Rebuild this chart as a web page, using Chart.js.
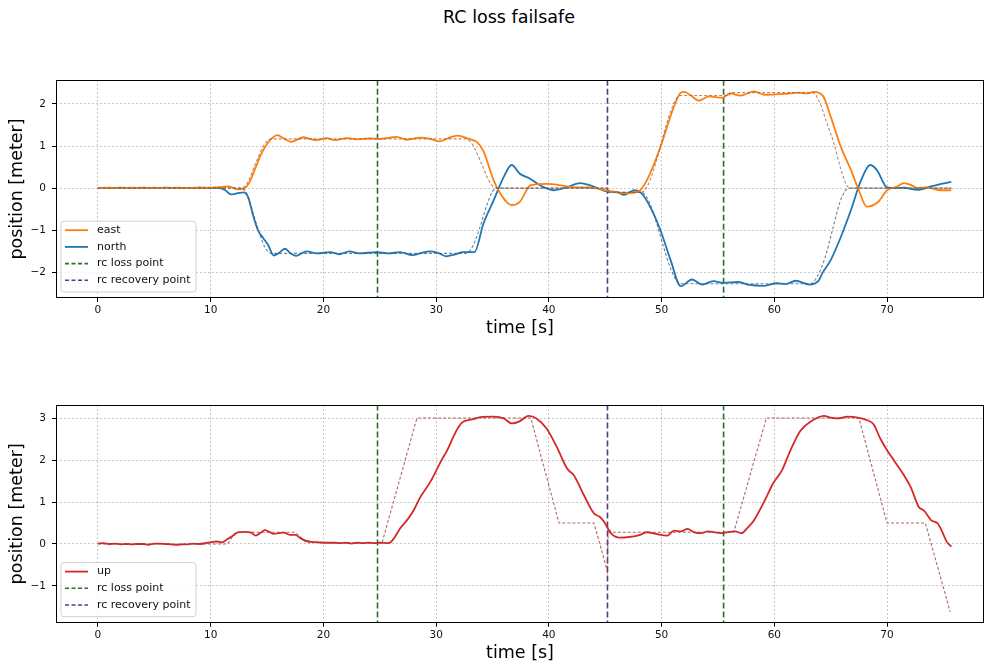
<!DOCTYPE html>
<html><head><meta charset="utf-8">
<script src="https://cdn.jsdelivr.net/npm/chart.js@4.4.1/dist/chart.umd.min.js"></script>
<style>
html,body{margin:0;padding:0;background:#fff;}
body{width:985px;height:669px;position:relative;overflow:hidden;font-family:"DejaVu Sans",sans-serif;}
#title{position:absolute;left:509px;top:6px;transform:translateX(-50%);font-size:17.5px;line-height:22px;color:#000;white-space:nowrap;}
#c1{position:absolute;left:0;top:0;}
#c2{position:absolute;left:0;top:340px;}
</style></head><body>
<div id="title">RC loss failsafe</div>
<canvas id="c1" width="985" height="340"></canvas>
<canvas id="c2" width="985" height="329"></canvas>
<script>
// ---------- data ----------
const xTicks = [0,10,20,30,40,50,60,70];
const yTicksTop = [-2,-1,0,1,2];
const yTicksBottom = [-1,0,1,2,3];
const lossTimes = [24.8, 55.5];
const recoveryTimes = [45.2];

const tEast = [0,1,2,3,4,5,6,7,8,9,10,11,11.6,12.4,13,13.4,14,14.5,15,15.5,15.9,16.5,17.1,17.6,18.2,18.8,19.4,20.3,21.0,22.1,23.0,24.0,25.0,26.5,27.4,28.6,29.5,30.3,31.0,31.9,32.9,33.6,34.2,35.1,35.7,36.7,37.4,38.4,39.9,41.2,42.4,43.5,45.2,46.7,48.0,48.7,49.9,51.1,51.7,52.0,52.6,53.3,54.2,55.4,56.1,57.0,58.2,59.1,60.9,62.1,62.9,63.5,64.3,65.0,65.9,66.8,67.5,68.2,69.2,70.0,70.9,71.5,72.1,72.7,73.5,74.8,75.7];
const east = [0,0.01,0,0.01,0,0.01,0,0.01,0,0.01,0.01,0.03,0.04,-0.03,0,0.12,0.5,0.82,1.05,1.2,1.26,1.18,1.10,1.14,1.21,1.17,1.14,1.19,1.14,1.19,1.16,1.18,1.17,1.22,1.15,1.2,1.17,1.11,1.18,1.25,1.17,1.10,0.88,0.19,-0.13,-0.40,-0.33,0.07,0.10,0.06,0.02,0.02,-0.06,-0.12,-0.07,0.19,0.98,1.94,2.27,2.29,2.2,2.08,2.18,2.15,2.25,2.2,2.3,2.22,2.24,2.27,2.25,2.29,2.2,1.70,0.98,0.43,-0.05,-0.44,-0.33,-0.05,0.04,0.12,0.08,0.0,0.02,-0.05,-0.05];

const tNorth = [0,1,2,3,4,5,6,7,8,9,10,10.8,11.3,11.8,12.4,12.9,13.3,13.8,14.2,14.7,15.1,15.6,16.0,16.6,17.1,17.6,18.5,19.4,20.6,21.4,22.3,23.2,24.7,25.8,26.8,27.9,29.4,30.1,30.9,31.6,32.4,33.4,34.2,35.1,36.0,36.7,37.4,38.3,39.2,40.4,41.6,42.8,43.6,44.5,45.2,46.0,46.7,47.6,48.2,49.0,49.9,50.8,51.7,52.7,53.6,54.6,55.5,56.8,57.8,59.0,60.2,61.0,61.9,63.1,63.9,64.3,65.0,65.9,66.8,67.7,68.5,69.1,70.0,70.8,71.5,72.7,73.9,74.8,75.7];
const north = [0,0,0.01,0,0.01,0,0.01,0,0,0.01,0,0,-0.05,-0.15,-0.12,-0.1,-0.2,-0.68,-1.0,-1.2,-1.35,-1.6,-1.55,-1.44,-1.55,-1.61,-1.5,-1.55,-1.52,-1.57,-1.5,-1.55,-1.52,-1.55,-1.52,-1.59,-1.5,-1.53,-1.62,-1.58,-1.52,-1.52,-0.84,-0.29,0.27,0.55,0.35,0.23,0.07,-0.05,0.02,0.12,0.07,-0.02,-0.08,-0.09,-0.16,-0.05,-0.12,-0.45,-1.0,-1.71,-2.33,-2.17,-2.29,-2.21,-2.25,-2.23,-2.3,-2.32,-2.26,-2.28,-2.2,-2.29,-2.21,-2.0,-1.71,-1.16,-0.52,0.19,0.55,0.43,0.02,0.0,0.01,-0.04,0.04,0.1,0.15];

const tEastSp = [0,12.6,13.2,14.0,14.8,15.4,32.6,33.2,34.0,34.8,35.4,45.2,45.3,48.2,51.7,56.0,56.1,63.4,64.0,64.6,65.3,65.9,66.4,66.8,75.7];
const eastSp = [0,0,0.1,0.6,1.05,1.17,1.17,1.05,0.6,0.12,0,0,-0.1,-0.1,2.2,2.2,2.27,2.27,2.05,1.6,1.05,0.45,0.08,0,0];

const tNorthSp = [0,12.6,13.2,14.0,14.8,15.4,32.5,33.1,33.8,34.5,35.0,35.4,45.2,45.3,48.2,51.7,63.2,63.8,64.5,65.2,65.8,66.3,66.8,75.7];
const northSp = [0,0,-0.12,-0.8,-1.4,-1.55,-1.55,-1.45,-1.0,-0.4,-0.08,0,0,-0.1,-0.1,-2.27,-2.27,-2.1,-1.65,-0.95,-0.35,-0.06,0,0];

const tUp = [0,0.5,1,1.5,2,2.5,3,3.5,4,4.5,5,5.5,6,6.5,7,7.5,8,8.5,9,9.5,10,10.5,11,11.5,12,12.4,13,13.6,14.0,14.4,14.8,15.2,15.6,16.0,16.5,17.0,17.5,17.9,18.4,19.0,19.6,20.3,21,21.5,22,22.5,23,23.5,24,24.5,25,25.8,26.3,26.8,27.5,28.0,28.6,29.5,30.4,31.0,31.6,32.0,32.4,33.3,33.9,35.1,36.0,36.7,37.4,38.2,38.9,39.8,40.7,41.6,41.9,42.2,43.1,44.0,44.5,44.9,45.5,46.3,47.2,48.1,48.7,49.5,50.5,51.1,51.7,52.3,52.9,53.5,54.1,54.7,55.4,56.0,56.5,57.1,57.6,58.2,59.1,59.9,60.7,61.4,62.3,63.2,64.4,65.0,65.6,66.5,67.4,68.3,68.8,69.4,70.0,70.7,71.5,72.1,72.8,73.3,73.9,74.5,74.9,75.3,75.7];
const up = [0.01,0.02,0,0.01,-0.01,0,-0.01,0,0,-0.02,0.01,0.01,0,-0.01,-0.02,-0.01,-0.01,0.01,0,0.02,0.04,0.06,0.04,0.12,0.2,0.28,0.29,0.27,0.2,0.26,0.33,0.29,0.24,0.26,0.27,0.22,0.22,0.15,0.08,0.05,0.04,0.03,0.03,0.02,0.03,0.01,0.03,0.02,0.03,0.02,0.03,0.02,0.15,0.37,0.6,0.8,1.12,1.49,1.96,2.25,2.6,2.8,2.92,2.98,3.03,3.04,3.0,2.88,2.93,3.06,3.0,2.76,2.32,1.81,1.72,1.65,1.17,0.73,0.65,0.53,0.26,0.15,0.17,0.22,0.28,0.24,0.2,0.32,0.3,0.36,0.28,0.26,0.3,0.28,0.26,0.29,0.3,0.26,0.38,0.57,1.01,1.45,1.77,2.22,2.7,2.92,3.06,3.02,3.0,3.04,3.02,2.95,2.86,2.52,2.24,1.96,1.64,1.36,0.89,0.79,0.57,0.49,0.29,0.05,-0.06];

const tUpSp = [0,11.5,12.2,17.5,18.5,25.2,28.3,38.4,40.9,44.0,45.2,45.25,45.6,56.4,59.3,67.5,70.0,73.4,75.6];
const upSp = [0,0,0.28,0.28,0.03,0.03,3.01,3.01,0.5,0.5,-0.66,0.35,0.28,0.28,3.01,3.01,0.5,0.5,-1.62];

// ---------- helpers ----------
const FONT = 'DejaVu Sans';
const C_EAST = '#ff7f0e', C_NORTH = '#1f77b4', C_UP = '#d62728';
const C_LOSS = '#2b6e2b', C_REC = '#503c82';
const pts = (ts, vs) => ts.map((t, i) => ({x: t, y: vs[i]}));
const fmt = v => (v < 0 ? '\u2212' + Math.abs(v) : String(v));

function lineDs(label, ts, vs, color, smooth) {
  return {label, data: pts(ts, vs), borderColor: color, borderWidth: 1.8, pointRadius: 0,
    fill: false, cubicInterpolationMode: smooth ? 'monotone' : 'default', tension: 0};
}
function spDs(ts, vs, color, smooth) {
  return {label: '_sp', data: pts(ts, vs), borderColor: color, borderWidth: 1.1, borderDash: [3, 2],
    pointRadius: 0, fill: false, cubicInterpolationMode: smooth ? 'monotone' : 'default', tension: 0};
}
function vDs(times, color) {
  return times.map(t => ({label: '_v', data: [{x: t, y: -100}, {x: t, y: 100}], borderColor: color,
    borderWidth: 1.6, borderDash: [6, 3], pointRadius: 0, fill: false, clip: 0}));
}

const mplPlugin = {
  id: 'mpl',
  afterDraw(chart, args, opts) {
    const ca = chart.chartArea, ctx = chart.ctx;
    ctx.save();
    ctx.strokeStyle = '#000'; ctx.lineWidth = 1; ctx.setLineDash([]);
    ctx.strokeRect(Math.round(ca.left) + 0.5, Math.round(ca.top) + 0.5,
      Math.round(ca.right - ca.left) - 1, Math.round(ca.bottom - ca.top) - 1);
    const items = opts.items || [];
    const rowH = 16.7, w = 135;
    const h = 9 + (items.length - 1) * rowH + 11.7;
    const x0 = ca.left + 5, y0 = ca.bottom - 6 - h;
    ctx.beginPath();
    if (ctx.roundRect) ctx.roundRect(x0, y0, w, h, 3); else ctx.rect(x0, y0, w, h);
    ctx.fillStyle = 'rgba(255,255,255,0.8)'; ctx.fill();
    ctx.strokeStyle = '#d0d0d0'; ctx.lineWidth = 1; ctx.stroke();
    ctx.font = '11px "' + FONT + '"'; ctx.textBaseline = 'middle'; ctx.textAlign = 'left';
    items.forEach((it, i) => {
      const cy = y0 + 9 + i * rowH;
      ctx.beginPath();
      ctx.setLineDash(it.dash || []);
      ctx.strokeStyle = it.color; ctx.lineWidth = it.width;
      ctx.moveTo(x0 + 4, cy); ctx.lineTo(x0 + 27, cy); ctx.stroke();
      ctx.setLineDash([]);
      ctx.fillStyle = '#111';
      ctx.fillText(it.text, x0 + 36, cy);
    });
    ctx.restore();
  }
};

function makeChart(id, datasets, yMin, yMax, yTicks, padTop, xAxisH, titlePadB, items) {
  const grid = {color: 'rgba(0,0,0,0.3)', lineWidth: 0.7, tickLength: 4,
    tickColor: '#000', tickBorderDash: [], tickWidth: 1, drawTicks: true};
  const border = {display: false, dash: [2, 2]};
  return new Chart(document.getElementById(id), {
    type: 'line',
    data: {datasets},
    options: {
      responsive: false, animation: false, devicePixelRatio: 1,
      layout: {padding: {top: padTop, left: 0, right: 1, bottom: 0}},
      plugins: {legend: {display: false}, tooltip: {enabled: false}, mpl: {items}},
      scales: {
        x: {type: 'linear', min: -3.72, max: 78.6, grid, border,
          afterBuildTicks: s => { s.ticks = xTicks.map(v => ({value: v})); },
          afterFit: s => { s.height = xAxisH; },
          ticks: {padding: 2, color: '#111', font: {family: FONT, size: 10.5}, maxRotation: 0, autoSkip: false,
            callback: v => fmt(v)},
          title: {display: true, text: 'time [s]', color: '#000', font: {family: FONT, size: 17.5},
            padding: {top: 0, bottom: titlePadB}}},
        y: {type: 'linear', min: yMin, max: yMax, grid, border,
          afterBuildTicks: s => { s.ticks = yTicks.map(v => ({value: v})); },
          afterFit: s => { s.width = 56; },
          ticks: {padding: 6, color: '#111', font: {family: FONT, size: 10.5}, autoSkip: false,
            callback: v => fmt(v)},
          title: {display: true, text: 'position [meter]', color: '#000', font: {family: FONT, size: 17.5},
            padding: {top: 7, bottom: 0}}}
      }
    },
    plugins: [mplPlugin]
  });
}

const topSets = [
  spDs(tEastSp, eastSp, 'rgba(160,100,55,0.75)', true),
  spDs(tNorthSp, northSp, 'rgba(70,95,125,0.8)', true),
  lineDs('east', tEast, east, C_EAST, true),
  lineDs('north', tNorth, north, C_NORTH, true),
  ...vDs(lossTimes, C_LOSS),
  ...vDs(recoveryTimes, C_REC)
];
makeChart('c1', topSets, -2.61, 2.57, yTicksTop, 80, 42, 1, [
  {text: 'east', color: C_EAST, width: 1.8},
  {text: 'north', color: C_NORTH, width: 1.8},
  {text: 'rc loss point', color: C_LOSS, width: 1.6, dash: [4, 2.5]},
  {text: 'rc recovery point', color: C_REC, width: 1.6, dash: [4, 2.5]}
]);

const botSets = [
  spDs(tUpSp, upSp, 'rgba(155,65,65,0.8)', false),
  lineDs('up', tUp, up, C_UP, true),
  ...vDs(lossTimes, C_LOSS),
  ...vDs(recoveryTimes, C_REC)
];
makeChart('c2', botSets, -1.88, 3.32, yTicksBottom, 65, 46.3, 5, [
  {text: 'up', color: C_UP, width: 1.8},
  {text: 'rc loss point', color: C_LOSS, width: 1.6, dash: [4, 2.5]},
  {text: 'rc recovery point', color: C_REC, width: 1.6, dash: [4, 2.5]}
]);
</script>
</body></html>
